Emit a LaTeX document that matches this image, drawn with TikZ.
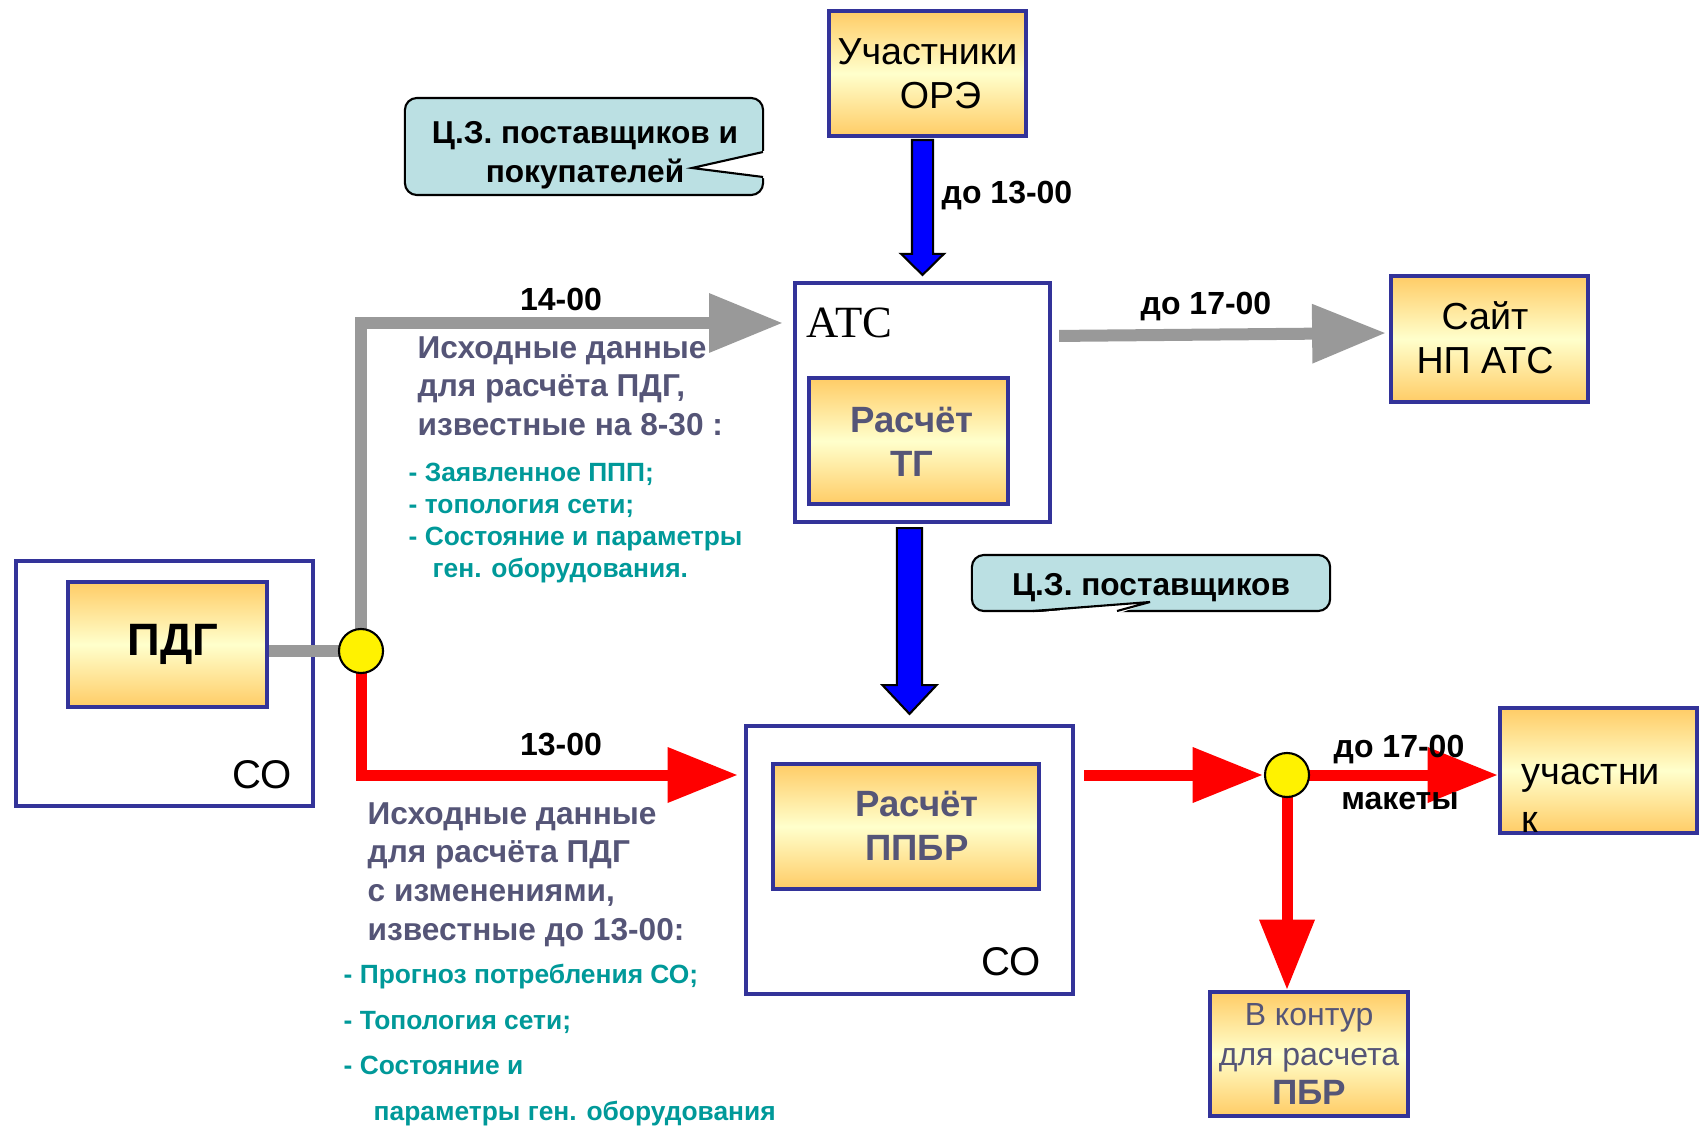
\documentclass[tikz,border=0pt]{standalone}
\usepackage{fontspec}
\setmainfont{Liberation Sans}
\newfontfamily\atcfont{Liberation Serif}
\usetikzlibrary{arrows.meta,calc}
\definecolor{navy}{HTML}{333399}
\definecolor{boxgold}{HTML}{FFCC66}
\definecolor{boxcream}{HTML}{FFFFCC}
\definecolor{slate}{HTML}{555577}
\definecolor{listteal}{HTML}{009999}
\definecolor{czfill}{HTML}{BBE0E3}
\definecolor{arrgray}{HTML}{999999}
\tikzset{
	frame/.style={draw=navy,line width=0.04cm,fill=white,inner sep=0},
	box/.style={frame,top color=boxgold,bottom color=boxgold,middle color=boxcream,align=center,font=\fontsize{10.7}{12.5}\selectfont},
	calctxt/.style={inner sep=0,align=center,text=slate,font=\bfseries\fontsize{10.4}{12.5}\selectfont},
	cotxt/.style={inner sep=0,font=\fontsize{11.4}{13}\selectfont},
	czbox/.style={draw=black,line width=0.6pt,fill=czfill,rounded corners=0.12cm,inner sep=0},
	cztxt/.style={inner sep=0,align=center,font=\bfseries\fontsize{9}{11.1}\selectfont},
	dot/.style={circle,draw=black,line width=0.6pt,fill=yellow,minimum size=0.44cm,inner sep=0},
	lbl/.style={inner sep=0,font=\bfseries\fontsize{9.1}{11}\selectfont},
	datatxt/.style={inner sep=0,anchor=west,align=left,text=slate,font=\bfseries\fontsize{9}{11}\selectfont},
	listtxt/.style={inner sep=0,anchor=west,align=left,text=listteal,font=\bfseries\fontsize{7.5}{9.1}\selectfont},
	grayarr/.style={draw=arrgray,line width=0.12cm,line join=miter,-{Triangle[length=21pt,width=16pt]}},
	redarr/.style={draw=red,line width=0.11cm,line join=miter,-{Triangle[length=20pt,width=15pt]}},
	bluearr/.style={draw=black,line width=0.6pt,fill=blue,line join=miter}
}
\newcommand{\blockarrow}[5]{%
	\draw[bluearr] let \p1=(#1), \p2=(#2) in
	(\x1-#3,\y1) -- (\x1-#3,\y2+#5) -- (\x1-#4,\y2+#5) -- (\x1,\y2)
	-- (\x1+#4,\y2+#5) -- (\x1+#3,\y2+#5) -- (\x1+#3,\y1) -- cycle;}
\begin{document}
\begin{tikzpicture}[x=0.01cm,y=-0.01cm]
	\useasboundingbox (0,0) rectangle (1701,1131);
	\node[box,minimum width=1.97cm,minimum height=1.25cm] (ore) at (927.5,73.5) {Участники\\\hspace*{0.26cm}ОРЭ};
	\node[frame,minimum width=2.55cm,minimum height=2.39cm] (atc) at (922.5,402.5) {};
	\node[anchor=west,inner sep=0,font=\atcfont\fontsize{12.7}{14}\selectfont] (atclbl) at (806,323) {АТС};
	\node[box,minimum width=1.99cm,minimum height=1.26cm] (tg) at (908.5,441) {};
	\node[calctxt] (tglbl) at (912,442) {Расчёт\\ТГ};
	\node[box,minimum width=1.97cm,minimum height=1.26cm] (sayt) at (1489.5,339) {};
	\node[inner sep=0,align=center,font=\fontsize{10.7}{12.5}\selectfont] (saytlbl) at (1485,338) {Сайт\\НП АТС};
	\node[frame,minimum width=2.97cm,minimum height=2.45cm] (co1) at (164.5,683.5) {};
	\node[box,minimum width=1.99cm,minimum height=1.25cm] (pdg) at (167.5,644.5) {};
	\node[inner sep=0,font=\bfseries\fontsize{12.9}{14}\selectfont] (pdglbl) at (173,644) {ПДГ};
	\node[cotxt,anchor=east] (co1lbl) at (292,775) {СО};
	\node[frame,minimum width=3.27cm,minimum height=2.68cm] (co2) at (909.5,860) {};
	\node[box,minimum width=2.66cm,minimum height=1.25cm] (ppbr) at (906,826.5) {};
	\node[calctxt] (ppbrlbl) at (917,826) {Расчёт\\ППБР};
	\node[cotxt,anchor=east] (co2lbl) at (1041,962) {СО};
	\node[box,minimum width=1.97cm,minimum height=1.25cm] (uch) at (1598.5,770.5) {};
	\node[anchor=west,inner sep=0,align=left,font=\fontsize{10.8}{13.7}\selectfont] (uchlbl) at (1521,798) {участни\\к};
	\node[box,text=slate,minimum width=1.98cm,minimum height=1.24cm,font=\fontsize{9.1}{11.1}\selectfont] (pbr) at (1309,1054) {В контур\\для расчета\\{\bfseries\fontsize{10}{11.1}\selectfont ПБР}};
	\node[czbox,minimum width=3.58cm,minimum height=0.97cm] (cz1) at (584,146.5) {};
	\node[cztxt] (cz1lbl) at (585,155) {Ц.З. поставщиков и\\покупателей};
	\node[czbox,minimum width=3.58cm,minimum height=0.56cm] (cz2) at (1151,583) {};
	\node[cztxt] (cz2lbl) at (1151,588) {Ц.З. поставщиков};
	\fill[white] (766,150.5) -- (692,168) -- (766,178.5) -- cycle;
	\draw[line width=0.6pt] (763,152) -- (692,168) -- (763,177);
	\fill[white] (1030,613) -- (1150,602) -- (1120,613) -- cycle;
	\draw[line width=0.6pt] (1033,611) -- (1150,602) -- (1117,611);
	\coordinate (p1) at (361,651);
	\coordinate (p2) at (1287,775);
	\blockarrow{[yshift=-0.02cm]ore.south -| atc.north}{[yshift=0.06cm]atc.north}{3pt}{6.1pt}{6pt}
	\blockarrow{[yshift=-0.04cm]atc.south -| co2.north}{[yshift=0.1cm]co2.north}{3.6pt}{7.7pt}{8.2pt}
	\draw[grayarr,-] (p1 -| pdg.east) -- (p1);
	\draw[grayarr,shorten >=0.1cm] (p1) |- (atc.west |- 0,323);
	\draw[grayarr,shorten <=0.07cm,shorten >=0.03cm] (atc.east |- 0,336) -- (sayt.west |- 0,333);
	\draw[redarr,shorten >=0.06cm] (p1) |- (co2.west |- p2);
	\draw[redarr,shorten <=0.09cm,shorten >=0.24cm] (co2.east |- p2) -- (p2);
	\draw[redarr] (p2) -- (p2 -| uch.west);
	\draw[redarr] (p2) -- (p2 |- pbr.north);
	\node[dot] (c1) at (p1) {};
	\node[dot] (c2) at (p2) {};
	\node[lbl] (t13) at (1007,196) {до 13-00};
	\node[lbl] (t14) at (561,299) {14-00};
	\node[lbl] (t17a) at (1206,307) {до 17-00};
	\node[lbl] (t1300) at (561,745) {13-00};
	\node[lbl] (t17b) at (1399,750) {до 17-00};
	\node[lbl] (tmak) at (1400,801) {макеты};
	\node[datatxt] (src1) at (417,386) {Исходные данные\\для расчёта ПДГ,\\известные на 8-30 :};
	\node[listtxt] (lst1) at (408,523) {- Заявленное ППП;\\- топология сети;\\- Состояние и параметры\\\hspace*{0.24cm}ген. оборудования.};
	\node[datatxt] (src2) at (367,874.5) {Исходные данные\\для расчёта ПДГ\\с изменениями,\\известные до 13-00:};
	\node[listtxt,font=\bfseries\fontsize{7.5}{13}\selectfont] (lst2) at (343,1045) {- Прогноз потребления СО;\\- Топология сети;\\- Состояние и\\\hspace*{0.3cm}параметры ген. оборудования};
\end{tikzpicture}
\end{document}
